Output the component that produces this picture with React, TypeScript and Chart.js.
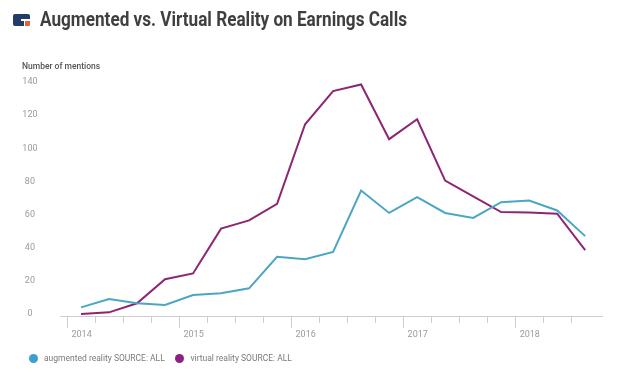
import React, { useEffect, useRef } from 'react';
import { Chart, registerables } from 'chart.js';

Chart.register(...registerables);

const quarters = [
  '2014 Q1', '2014 Q2', '2014 Q3', '2014 Q4',
  '2015 Q1', '2015 Q2', '2015 Q3', '2015 Q4',
  '2016 Q1', '2016 Q2', '2016 Q3', '2016 Q4',
  '2017 Q1', '2017 Q2', '2017 Q3', '2017 Q4',
  '2018 Q1', '2018 Q2', '2018 Q3',
];
const augmentedReality = [4, 9, 6.5, 5.5, 11.5, 12.5, 15.5, 34.5, 33, 37.5, 74.5, 61, 70.5, 61, 58, 67.5, 68.5, 62.5, 47];
const virtualReality = [0, 1, 6.5, 21, 24.5, 51.5, 56.5, 66.5, 114.5, 134.5, 138.5, 105.5, 117.5, 80.5, 71, 61.5, 61.3, 60.5, 38.5];
const yearLabels = ['2014', '2015', '2016', '2017', '2018'];
const yTicks = [0, 20, 40, 60, 80, 100, 120, 140];
const seriesNames = ['augmented reality SOURCE: ALL', 'virtual reality SOURCE: ALL'];
const seriesColors = ['#4ba6c3', '#8e2572'];
const legendDotColors = ['#3e9fcf', '#8e2083'];

const TITLE = 'Augmented vs. Virtual Reality on Earnings Calls';
const TITLE_WIDTH = 367;

const yearTickPlugin = {
  id: 'yearTicks',
  afterDraw(chart: any) {
    const xs = chart.scales.x;
    const ctx = chart.ctx;
    const b = chart.chartArea.bottom;
    ctx.save();
    ctx.strokeStyle = '#cfcfcf';
    ctx.lineWidth = 1;
    yearLabels.forEach((_, k) => {
      const px = Math.round(xs.getPixelForValue(k * 4)) + 0.5;
      ctx.beginPath();
      ctx.moveTo(px, b);
      ctx.lineTo(px, b + 12);
      ctx.stroke();
    });
    ctx.restore();
  },
};

export default function App() {
  const canvasRef = useRef<HTMLCanvasElement | null>(null);
  const titleRef = useRef<HTMLSpanElement | null>(null);

  useEffect(() => {
    if (titleRef.current) {
      const c = document.createElement('canvas').getContext('2d');
      if (c) {
        c.font = 'bold 21px Roboto';
        const w = c.measureText(TITLE).width;
        if (w > 0) titleRef.current.style.transform = `scaleX(${TITLE_WIDTH / w})`;
      }
    }
    const canvas = canvasRef.current;
    if (!canvas) return;
    const chart = new Chart(canvas, {
      type: 'line',
      data: {
        datasets: [augmentedReality, virtualReality].map((vals, s) => ({
          label: seriesNames[s],
          data: vals.map((v, i) => ({ x: i + 0.5, y: v, q: quarters[i] })),
          borderColor: seriesColors[s],
          backgroundColor: seriesColors[s],
          borderWidth: 2,
          pointRadius: 0,
          tension: 0,
          fill: false,
        })),
      },
      options: {
        animation: false,
        responsive: false,
        devicePixelRatio: 1,
        layout: { padding: { left: 0, right: 15, top: 82, bottom: 0 } },
        plugins: { legend: { display: false }, tooltip: { enabled: false } },
        scales: {
          x: {
            type: 'linear',
            min: -0.25,
            max: 19.1,
            afterBuildTicks: (scale: any) => {
              scale.ticks = quarters.map((_, i) => ({ value: i }));
            },
            afterFit: (scale: any) => {
              scale.height = 60;
            },
            grid: {
              display: true,
              drawOnChartArea: false,
              drawTicks: true,
              tickLength: 7,
              color: '#cfcfcf',
            },
            border: { display: true, color: '#cfcfcf', width: 1 },
            ticks: {
              autoSkip: false,
              maxRotation: 0,
              minRotation: 0,
              align: 'start',
              padding: 6,
              color: '#9a9a9a',
              font: { family: 'Roboto', size: 9 },
              callback: (v: any) => {
                const n = Number(v);
                return n % 4 === 0 ? '  ' + yearLabels[n / 4] : '';
              },
            },
          },
          y: {
            min: -1.2,
            max: 140,
            afterBuildTicks: (scale: any) => {
              scale.ticks = yTicks.map((v) => ({ value: v }));
            },
            afterFit: (scale: any) => {
              scale.width = 60;
            },
            grid: { display: false, drawTicks: false },
            border: { display: false },
            ticks: {
              crossAlign: 'center',
              padding: 22.5,
              color: '#9a9a9a',
              font: { family: 'Roboto', size: 9 },
            },
          },
        },
      },
      plugins: [yearTickPlugin],
    } as any);
    return () => chart.destroy();
  }, []);

  return (
    <div
      style={{
        position: 'fixed',
        left: 0,
        top: 0,
        width: 617,
        height: 376,
        background: '#fff',
        fontFamily: 'Roboto, sans-serif',
        overflow: 'hidden',
      }}
    >
      <canvas ref={canvasRef} width={617} height={376} style={{ position: 'absolute', left: 0, top: 0 }} />
      <div style={{ position: 'absolute', left: 13, top: 14, width: 17, height: 12 }}>
        <div style={{ position: 'absolute', left: 0, top: 0, width: 17, height: 12, background: '#1f3d66', borderRadius: 2 }} />
        <div style={{ position: 'absolute', left: 8, top: 5, width: 9, height: 1.5, background: '#fff' }} />
        <div style={{ position: 'absolute', left: 11.5, top: 6.5, width: 5.5, height: 5.5, background: '#e8613a', borderBottomRightRadius: 2 }} />
        <div style={{ position: 'absolute', left: 10.5, top: 6.5, width: 1, height: 5.5, background: '#fff' }} />
      </div>
      <span
        ref={titleRef}
        style={{
          position: 'absolute',
          left: 40,
          top: 6,
          fontSize: 21,
          fontWeight: 700,
          color: '#3f3f3f',
          whiteSpace: 'nowrap',
          transformOrigin: 'left center',
          lineHeight: '26px',
        }}
      >
        {TITLE}
      </span>
      <div
        style={{
          position: 'absolute',
          left: 22,
          top: 60,
          fontSize: 8.5,
          fontWeight: 500,
          color: '#555',
          whiteSpace: 'nowrap',
          lineHeight: '12px',
        }}
      >
        Number of mentions
      </div>
      {seriesNames.map((name, s) => (
        <div
          key={name}
          style={{
            position: 'absolute',
            left: s === 0 ? 28.5 : 175,
            top: 352,
            display: 'flex',
            alignItems: 'center',
            whiteSpace: 'nowrap',
          }}
        >
          <span
            style={{
              display: 'inline-block',
              width: 9,
              height: 9,
              borderRadius: '50%',
              background: legendDotColors[s],
              marginRight: 6.5,
            }}
          />
          <span style={{ fontSize: 8.5, color: '#7a7a7a', lineHeight: '12px' }}>{name}</span>
        </div>
      ))}
    </div>
  );
}
